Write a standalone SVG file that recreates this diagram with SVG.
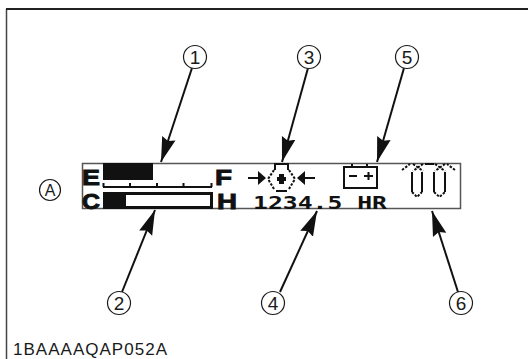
<svg xmlns="http://www.w3.org/2000/svg" width="528" height="359" viewBox="0 0 528 359">
<style>
.c{fill:#fff;stroke:#1a1a1a;stroke-width:1.2}
.n{font-family:"Liberation Sans",Arial,sans-serif;font-size:19px;fill:#1a1a1a;text-anchor:middle}
.l{stroke:#111;stroke-width:2;fill:none}
.k{fill:#111}
.p{fill:none;stroke:#111;stroke-width:2}
.d{fill:none;stroke:#111;stroke-width:2;stroke-dasharray:2.500 1.500}
.b{font-family:"Liberation Sans",Arial,sans-serif;font-weight:bold;font-size:22px;fill:#111;stroke:#111;stroke-width:.9}
</style>
<defs><marker id="a" markerUnits="userSpaceOnUse" markerWidth="26" markerHeight="16" refX="25" refY="8" orient="auto"><path d="M0 1 L25 8 L0 15 L3 8 Z" fill="#111"/></marker></defs>
<rect x="0" y="0" width="528" height="359" fill="#fff"/>
<path d="M6.500 9V359" fill="none" stroke="#444" stroke-width="1.500"/>
<path d="M6 9H528" fill="none" stroke="#222" stroke-width="2"/>
<g id="display">
<rect x="82.500" y="163.500" width="378" height="45" fill="none" stroke="#555" stroke-width="1.500"/>
<text class="b" x="82" y="184.500" textLength="18" lengthAdjust="spacingAndGlyphs">E</text><text class="b" x="215" y="184.500" textLength="17" lengthAdjust="spacingAndGlyphs">F</text>
<text class="b" x="82" y="208.500" textLength="18" lengthAdjust="spacingAndGlyphs">C</text><text class="b" x="217" y="208.500" textLength="20" lengthAdjust="spacingAndGlyphs">H</text>
<rect class="k" x="103" y="163" width="50" height="17"/>
<path class="p" d="M103 187H212"/>
<path class="p" d="M103.500 183V187M130 183V187M157 183V187M183.500 183V187M211.500 183V187"/>
<rect class="k" x="103" y="192" width="110" height="17"/>
<rect x="126" y="195" width="84" height="11" fill="#fff"/>
<g id="fuel-flow">
<path class="p" d="M248 178H259" stroke-width="3"/><path class="k" d="M258 171L266 178L258 185Z"/>
<path class="p" d="M304 178H315" stroke-width="3"/><path class="k" d="M305 171L297 178L305 185Z"/>
<path class="p" d="M275 170V164H288V170M276 191H287"/>
<path class="d" d="M274 170L268 179L274 189M289 170L295 179L289 189"/>
<path class="k" d="M279 174H284V177H286V181H284V184H279V181H277V177H279Z"/>
</g>
<g id="battery">
<rect x="344" y="167" width="33" height="21" fill="none" stroke="#111" stroke-width="2"/>
<path class="p" d="M352 164V167M367 164V167M349 176H357M364 176H373M368.500 172V180"/>
</g>
<text x="253" y="209" textLength="134" lengthAdjust="spacingAndGlyphs" style="font-family:'DejaVu Sans Mono',monospace;font-size:18px;font-weight:bold" fill="#111">1234.5 HR</text>
<g id="glow">
<path class="d" d="M402 170L410 164M455 170L447 164M413 164L423 171M423 164L413 171M435 164L445 171M445 164L435 171"/>
<path class="p" d="M425 164H434"/>
<path class="p" d="M412 172V192M422 172V192M434 172V192M445 172V192"/>
<path class="d" d="M412 192L417 197L422 192M434 192L439.500 197L445 192"/>
</g>
</g>
<g id="connectors">
<path class="l" d="M192 68L161 162" marker-end="url(#a)"/>
<path class="l" d="M308 68L282 162" marker-end="url(#a)"/>
<path class="l" d="M404 68L377 162" marker-end="url(#a)"/>
<path class="l" d="M122 292L155 210" marker-end="url(#a)"/>
<path class="l" d="M280 292L317 211" marker-end="url(#a)"/>
<path class="l" d="M458 292L432 211" marker-end="url(#a)"/>
</g>
<g id="n1"><circle class="c" cx="195" cy="57" r="11.500"/><text class="n" x="195" y="64">1</text></g>
<g id="n2"><circle class="c" cx="119" cy="303" r="11.500"/><text class="n" x="119" y="310">2</text></g>
<g id="n3"><circle class="c" cx="309" cy="57" r="11.500"/><text class="n" x="309" y="64">3</text></g>
<g id="n4"><circle class="c" cx="273" cy="303" r="11.500"/><text class="n" x="273" y="310">4</text></g>
<g id="n5"><circle class="c" cx="407" cy="57" r="11.500"/><text class="n" x="407" y="64">5</text></g>
<g id="n6"><circle class="c" cx="461" cy="303" r="11.500"/><text class="n" x="461" y="310">6</text></g>
<g id="nA"><circle class="c" cx="50" cy="190" r="10.500"/><text class="n" x="50" y="196" style="font-size:16px">A</text></g>
<text x="13" y="355" textLength="154" style="font-family:'Liberation Sans',Arial,sans-serif;font-size:17px" fill="#1a1a1a">1BAAAAQAP052A</text>
</svg>
